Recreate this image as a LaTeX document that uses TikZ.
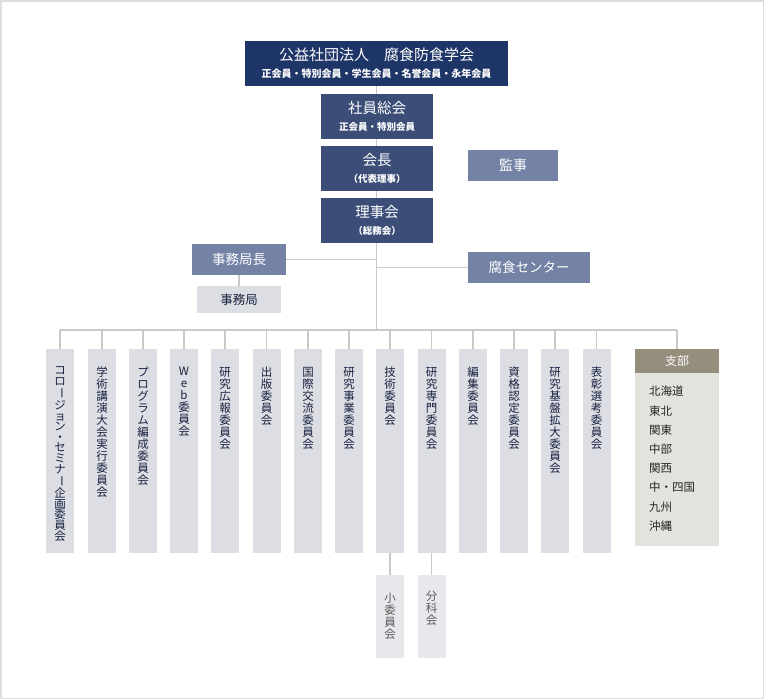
\documentclass[tikz,border=0pt]{standalone}
\usepackage{fontspec}
\setmainfont{Noto Sans CJK JP}
\usetikzlibrary{backgrounds}
\definecolor{navytop}{HTML}{1E3567}
\definecolor{navymid}{HTML}{3C4E78}
\definecolor{bluelight}{HTML}{7482A6}
\definecolor{grayb}{HTML}{DCDEE4}
\definecolor{grays}{HTML}{E7E8EB}
\definecolor{ctextc}{HTML}{18213F}
\definecolor{stextc}{HTML}{5A5A5A}
\definecolor{shibuhead}{HTML}{958E7D}
\definecolor{shibubody}{HTML}{E4E2DC}
\definecolor{linec}{HTML}{C9C9C9}
\definecolor{framec}{HTML}{DDDDDD}
\newcommand\vchoon{\rotatebox[origin=c]{-90}{ー}}
\begin{document}
\begin{tikzpicture}[x=1pt,y=-1pt,
  every node/.style={inner sep=0pt},
  topbox/.style={fill=navytop,text=white,minimum width=263pt,minimum height=45pt,align=center,
    font=\fontsize{10}{17}\selectfont},
  midbox/.style={fill=navymid,text=white,minimum width=112pt,minimum height=45pt,align=center,
    font=\fontsize{9.5}{17}\selectfont},
  lightbox/.style={fill=bluelight,text=white,minimum height=31pt,font=\fontsize{13.5}{14}\selectfont},
  officebox/.style={fill=grayb,text=ctextc,minimum height=27pt,font=\fontsize{12.5}{13}\selectfont},
  commbox/.style={fill=grayb,minimum width=28pt,minimum height=204pt},
  ctext/.style={anchor=north,align=center,text=ctextc,font=\fontsize{11.5}{12}\selectfont},
  subbox/.style={fill=grays,minimum width=28pt,minimum height=83pt},
  stext/.style={anchor=north,align=center,text=stextc,font=\fontsize{11.5}{12}\selectfont},
  conn/.style={draw=linec,line width=1.6pt},
]
\useasboundingbox (0,0) rectangle (764,699);
\draw[framec,line width=1.5pt] (0.75,0.75) rectangle (763.25,698.25);

% top chain
\node[topbox] (top) at (376.5,63.5) {{\fontsize{15}{17}\selectfont 公益社団法人　腐食防食学会}\\\textbf{正会員・特別会員・学生会員・名誉会員・永年会員}};
\node[midbox] (soukai) at (377,116.5) {{\fontsize{14.5}{17}\selectfont 社員総会}\\\textbf{正会員・特別会員}};
\node[midbox] (kaicho) at (377,168.5) {{\fontsize{14.5}{17}\selectfont 会長}\\\textbf{（代表理事）}};
\node[midbox] (rijikai) at (377,220.5) {{\fontsize{14.5}{17}\selectfont 理事会}\\\textbf{（総務会）}};
\node[lightbox,minimum width=90pt,font=\fontsize{14}{14}\selectfont] (kanji) at (513,165.5) {監事};
\node[lightbox,minimum width=94pt] (jkc) at (239,259.5) {事務局長};
\node[officebox,minimum width=84pt] (jk) at (239,299.5) {事務局};
\node[lightbox,minimum width=122pt] (fc) at (529,267.5) {腐食センター};

\coordinate (busc) at (377,330);

% committees
\node[commbox] (c1) at (60,451) {};
\node[commbox] (c2) at (102,451) {};
\node[commbox] (c3) at (143,451) {};
\node[commbox] (c4) at (184,451) {};
\node[commbox] (c5) at (225,451) {};
\node[commbox] (c6) at (266.5,451) {};
\node[commbox] (c7) at (308,451) {};
\node[commbox] (c8) at (349,451) {};
\node[commbox] (c9) at (390,451) {};
\node[commbox] (c10) at (431.5,451) {};
\node[commbox] (c11) at (473,451) {};
\node[commbox] (c12) at (514,451) {};
\node[commbox] (c13) at (555,451) {};
\node[commbox] (c14) at (596.5,451) {};

\node[ctext,font=\fontsize{11.5}{10.6}\selectfont] (t1) at ([yshift=-18pt]c1.north) {コ\\ロ\\\vchoon\\ジ\\ョ\\ン\\・\\セ\\ミ\\ナ\\\vchoon\\企\\画\\委\\員\\会};
\node[ctext] (t2) at ([yshift=-18pt]c2.north) {学\\術\\講\\演\\大\\会\\実\\行\\委\\員\\会};
\node[ctext] (t3) at ([yshift=-18pt]c3.north) {プ\\ロ\\グ\\ラ\\ム\\編\\成\\委\\員\\会};
\node[ctext] (t4) at ([yshift=-18pt]c4.north) {W\\e\\b\\委\\員\\会};
\node[ctext] (t5) at ([yshift=-18pt]c5.north) {研\\究\\広\\報\\委\\員\\会};
\node[ctext] (t6) at ([yshift=-18pt]c6.north) {出\\版\\委\\員\\会};
\node[ctext] (t7) at ([yshift=-18pt]c7.north) {国\\際\\交\\流\\委\\員\\会};
\node[ctext] (t8) at ([yshift=-18pt]c8.north) {研\\究\\事\\業\\委\\員\\会};
\node[ctext] (t9) at ([yshift=-18pt]c9.north) {技\\術\\委\\員\\会};
\node[ctext] (t10) at ([yshift=-18pt]c10.north) {研\\究\\専\\門\\委\\員\\会};
\node[ctext] (t11) at ([yshift=-18pt]c11.north) {編\\集\\委\\員\\会};
\node[ctext] (t12) at ([yshift=-18pt]c12.north) {資\\格\\認\\定\\委\\員\\会};
\node[ctext] (t13) at ([yshift=-18pt]c13.north) {研\\究\\基\\盤\\拡\\大\\委\\員\\会};
\node[ctext] (t14) at ([yshift=-18pt]c14.north) {表\\彰\\選\\考\\委\\員\\会};

% branch box
\node[fill=shibubody,minimum width=84pt,minimum height=197pt] (shibu) at (677,447.5) {};
\node[fill=shibuhead,minimum width=84pt,minimum height=24pt,text=white,font=\fontsize{12}{12}\selectfont] (shibuh) at (677,361) {支部};
\node[anchor=north west,align=left,text=black!85,font=\fontsize{11.5}{19.2}\selectfont] (shibul) at (649,386) {北海道\\東北\\関東\\中部\\関西\\中・四国\\九州\\沖縄};

% sub boxes
\node[subbox] (s1) at (390,616.5) {};
\node[subbox] (s2) at (431.5,616.5) {};
\node[stext] (st1) at ([yshift=-18pt]s1.north) {小\\委\\員\\会};
\node[stext] (st2) at ([yshift=-16.5pt]s2.north) {分\\科\\会};

\begin{pgfonlayer}{background}
  \draw[conn] (top.south) -- (top.south |- busc);
  \draw[conn] (jkc.east) -- (jkc.east -| busc);
  \draw[conn] (fc.west) -- (fc.west -| busc);
  \draw[conn] (jkc.south) -- (jk.north);
  \draw[conn] (c1.north |- busc) -- (shibuh.north |- busc);
  \foreach \c in {c1,c2,c3,c4,c5,c6,c7,c8,c9,c10,c11,c12,c13,c14,shibuh}
    \draw[conn] (\c.north) -- (\c.north |- busc);
  \draw[conn] (c9.south) -- (s1.north);
  \draw[conn] (c10.south) -- (s2.north);
\end{pgfonlayer}
\end{tikzpicture}
\end{document}
